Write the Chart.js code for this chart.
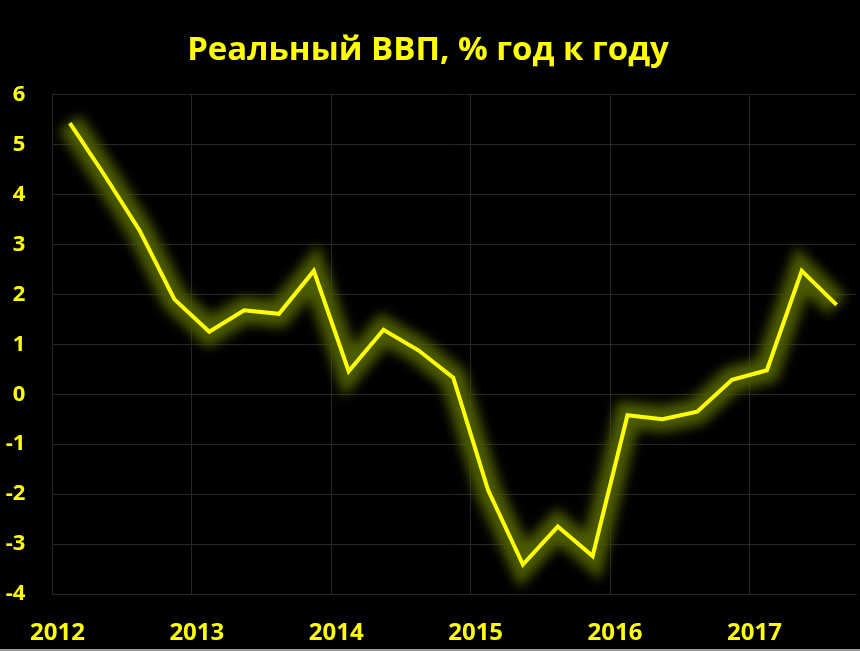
<!DOCTYPE html>
<html>
<head>
<meta charset="utf-8">
<script src="https://cdn.jsdelivr.net/npm/chart.js@4/dist/chart.umd.min.js"></script>
<style>
  html, body { margin: 0; padding: 0; background: #000; }
  .chart-container { position: relative; width: 860px; height: 651px; }
</style>
</head>
<body>
<div class="chart-container">
  <canvas id="chart"></canvas>
</div>
<script>
// quarterly real GDP, % y/y
const quarters = ['2012 Q1', '2012 Q2', '2012 Q3', '2012 Q4',
  '2013 Q1', '2013 Q2', '2013 Q3', '2013 Q4',
  '2014 Q1', '2014 Q2', '2014 Q3', '2014 Q4',
  '2015 Q1', '2015 Q2', '2015 Q3', '2015 Q4',
  '2016 Q1', '2016 Q2', '2016 Q3', '2016 Q4',
  '2017 Q1', '2017 Q2', '2017 Q3'];
const gdp = [5.43, 4.38, 3.28, 1.9,
  1.25, 1.68, 1.61, 2.47,
  0.46, 1.29, 0.88, 0.33,
  -1.92, -3.41, -2.65, -3.24,
  -0.42, -0.5, -0.35, 0.29,
  0.48, 2.47, 1.79];
const yearTicks = [2012, 2013, 2014, 2015, 2016, 2017];
const yTicks = [-4, -3, -2, -1, 0, 1, 2, 3, 4, 5, 6];
const titleText = 'Реальный ВВП, % год к году';

const yellow = '#ffff00';
const gridColor = '#272727';
const fontFamily = '"Open Sans", "DejaVu Sans", sans-serif';

// place each quarter in the middle of its quarter of the year
const points = quarters.map((q, i) => {
  const [year, qq] = q.split(' Q');
  return { x: Number(year) + (Number(qq) - 0.5) / 4, y: gdp[i] };
});

const glowPlugin = {
  id: 'glow',
  beforeDatasetDraw(chart, args) {
    if (args.index === 1) {
      chart.ctx.save();
      chart.ctx.filter = 'blur(6px)';
    }
  },
  afterDatasetDraw(chart, args) {
    if (args.index === 1) {
      chart.ctx.restore();
    }
  }
};

const bottomEdge = {
  id: 'bottomEdge',
  afterDraw(chart) {
    const ctx = chart.ctx;
    ctx.save();
    ctx.fillStyle = '#9a9a9a';
    ctx.fillRect(0, 649, chart.width, 2);
    ctx.restore();
  }
};

new Chart(document.getElementById('chart').getContext('2d'), {
  type: 'line',
  data: {
    datasets: [
      {
        label: 'ВВП',
        data: points,
        borderColor: yellow,
        borderWidth: 4,
        pointRadius: 0,
        tension: 0,
        clip: false
      },
      {
        label: 'glow',
        data: points,
        borderColor: 'rgb(76, 92, 0)',
        borderWidth: 26,
        pointRadius: 0,
        tension: 0,
        clip: false
      }
    ]
  },
  options: {
    responsive: true,
    maintainAspectRatio: false,
    animation: false,
    layout: { padding: { left: 0, right: 4, top: 0, bottom: 5 } },
    plugins: {
      legend: { display: false },
      tooltip: { enabled: false },
      title: {
        display: true,
        text: titleText,
        color: yellow,
        font: { family: fontFamily, size: 33, weight: 'bold' },
        padding: { top: 31, bottom: 24 }
      }
    },
    scales: {
      x: {
        type: 'linear',
        min: 2012,
        max: 2012 + 807 / 140,
        afterBuildTicks: (axis) => {
          axis.ticks = yearTicks.map(v => ({ value: v }));
        },
        afterFit: (axis) => {
          axis.height = 52;
        },
        grid: { color: gridColor, drawTicks: false },
        border: { color: gridColor },
        ticks: {
          color: yellow,
          font: { family: fontFamily, size: 24, weight: 'bold' },
          padding: 25,
          labelOffset: 5,
          maxRotation: 0,
          callback: (v) => String(v)
        }
      },
      y: {
        min: -4,
        max: 6,
        afterBuildTicks: (axis) => {
          axis.ticks = yTicks.map(v => ({ value: v }));
        },
        afterFit: (axis) => {
          axis.width = 49;
        },
        grid: { color: gridColor, drawTicks: false },
        border: { color: gridColor },
        ticks: {
          color: yellow,
          font: { family: fontFamily, size: 22, weight: 'bold' },
          padding: 27
        }
      }
    }
  },
  plugins: [glowPlugin, bottomEdge]
});
</script>
</body>
</html>
